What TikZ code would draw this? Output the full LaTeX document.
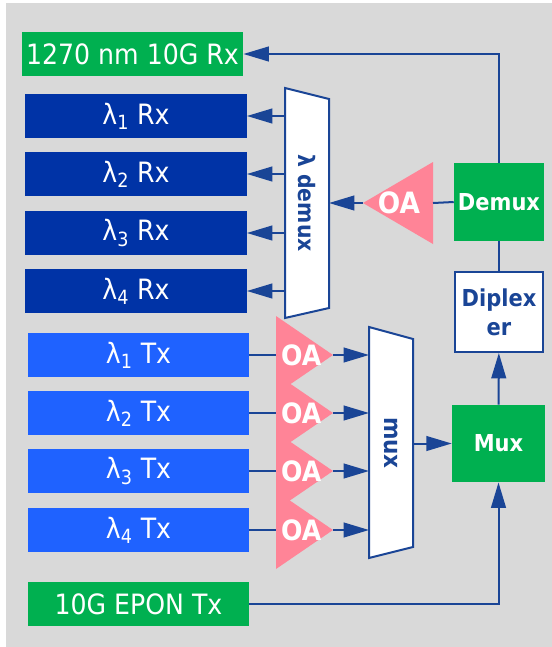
\documentclass[tikz,border=0pt]{standalone}
\usepackage{fontspec}
\setmainfont{DejaVu Sans}[FakeStretch=0.9]
\usetikzlibrary{arrows.meta, positioning}

\definecolor{bggrey}{HTML}{D9D9D9}
\definecolor{epongreen}{HTML}{00B050}
\definecolor{rxblue}{HTML}{0033A6}
\definecolor{txblue}{HTML}{1F62FF}
\definecolor{oapink}{HTML}{FF8497}
\definecolor{linkblue}{HTML}{1A4596}

\begin{document}
\begin{tikzpicture}[x=0.75pt, y=-0.75pt,
    box/.style={minimum width=166pt, minimum height=33pt, inner sep=0pt, text=white,
        font=\fontsize{21}{24}\selectfont},
    grnbox/.style={box, fill=epongreen},
    rxbox/.style={box, fill=rxblue},
    txbox/.style={box, fill=txblue},
    blk/.style={minimum width=68pt, minimum height=58pt, inner sep=0pt,
        font=\bfseries\fontsize{17.5}{22}\selectfont},
    link/.style={draw=linkblue, line width=1.5pt},
    arr/.style={link, -{Triangle[length=19pt, width=11pt]}},
    oa/.style={fill=oapink},
    oatext/.style={text=white, inner sep=0pt, font=\bfseries\fontsize{#1}{24}\selectfont},
    trap/.style={draw=linkblue, fill=white, line width=1.5pt, line join=miter},
    traptext/.style={text=linkblue, rotate=-90, inner sep=0pt, font=\bfseries\fontsize{#1}{20}\selectfont}
]
    \useasboundingbox (0,0) rectangle (552,647);
    \fill[bggrey] (6,3) rectangle (552,647);

    % Empfaenger und Sender
    \node[grnbox] (rx0) at (132.5,54) {1270 nm 10G Rx};
    \foreach \i/\y in {1/116,2/174,3/233,4/291}
        \node[rxbox] (rx\i) at (136,\y) {λ\textsubscript{\i} Rx};
    \foreach \i/\y in {1/355,2/413,3/471,4/530}
        \node[txbox] (tx\i) at (138.5,\y) {λ\textsubscript{\i} Tx};
    \node[grnbox] (tx0) at (138.5,604) {10G EPON Tx};

    % Bloecke rechts
    \node[blk, fill=epongreen, text=white, minimum width=67.5pt] (demux) at (499,202) {Demux};
    \node[blk, draw=linkblue, line width=1.5pt, fill=white, text=linkblue, align=center,
        minimum width=66pt, minimum height=60pt] (dplx) at (499,312) {Diplex\\er};
    \node[blk, fill=epongreen, text=white, minimum width=69.75pt] (mux) at (498.5,443.5) {Mux};

    % lambda demux
    \draw[trap] (285,88) -- (329,99) -- (329,308) -- (285,318) -- cycle;
    \node[traptext=17] (ldmx) at (307,203) {λ demux};
    \coordinate (ldmx-in) at (329,203);
    \foreach \i/\y in {1/116,2/174,3/233,4/291}
        \coordinate (ldmx-o\i) at (285,\y);

    % mux
    \draw[trap] (369,327) -- (413,339) -- (413,547) -- (369,558) -- cycle;
    \node[traptext=18] (lmux) at (391,443) {mux};
    \coordinate (lmux-out) at (413,443.5);

    % OA Empfang
    \fill[oa] (433,162) -- (433,244) -- (363,203) -- cycle;
    \coordinate (oa0-in) at (433,203);
    \coordinate (oa0-out) at (363,203);
    \node[oatext=22] (oa0) at (399,203) {OA};

    % OA Senden
    \foreach \i/\y in {1/355,2/413,3/471,4/530} {
        \fill[oa] (276,\y-39) -- (333,\y) -- (276,\y+39) -- cycle;
        \coordinate (oa\i-in) at (276,\y);
        \coordinate (oa\i-out) at (333,\y);
        \coordinate (lmux-i\i) at (369,\y);
    }
    \foreach \i in {1,...,4}
        \node[oatext=21] (oa\i) at (oa\i-in) [xshift=19pt] {OA};

    % Verbindungen
    \draw[arr] (demux.north) |- (rx0.east);
    \draw[link] (demux.west) -- (oa0-in);
    \draw[arr] (oa0-out) -- (ldmx-in);
    \foreach \i in {1,...,4}
        \draw[arr] (ldmx-o\i) -- (rx\i.east);
    \draw[link] (dplx) -- (demux);
    \draw[arr] (mux) -- (dplx);
    \foreach \i in {1,...,4} {
        \draw[link] (tx\i.east) -- (oa\i-in);
        \draw[arr] (oa\i-out) -- (lmux-i\i);
    }
    \draw[arr] (lmux-out) -- (mux.west);
    \draw[arr] (tx0.east) -| (mux.south);
\end{tikzpicture}
\end{document}
